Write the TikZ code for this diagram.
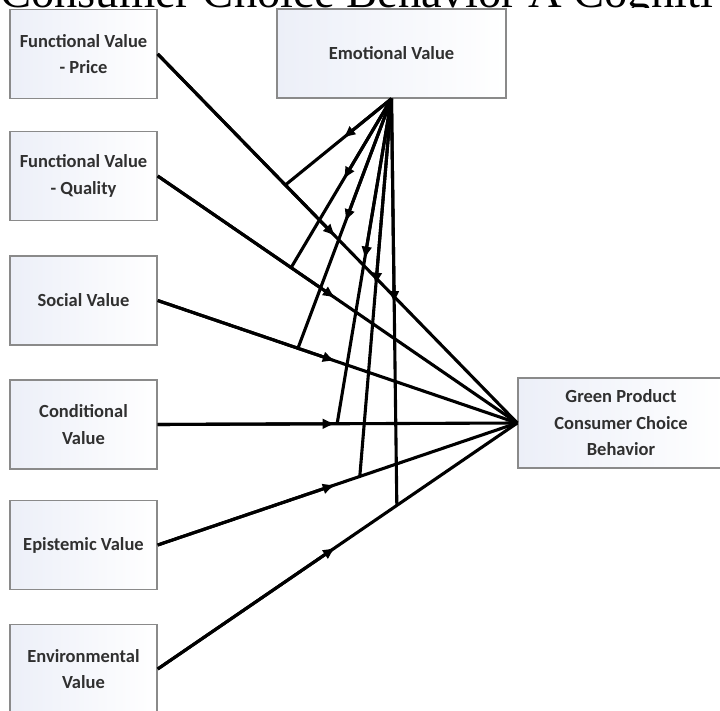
\documentclass[tikz,border=0pt]{standalone}
\usepackage{fontspec}
\setmainfont{Liberation Serif}
\newfontfamily\boxfont{Carlito}
\usetikzlibrary{arrows.meta,calc}
\definecolor{boxl}{HTML}{ECEFF8}
\definecolor{boxline}{HTML}{8A8A8A}
\definecolor{boxtext}{HTML}{303030}
\begin{document}
\begin{tikzpicture}[x=1pt,y=-1pt,
  vbox/.style={draw=boxline, line width=1.4pt, left color=boxl, right color=white,
    minimum width=147pt, minimum height=89pt, inner sep=0pt, align=center,
    text=boxtext, font=\boxfont\bfseries\fontsize{18.5}{26.5}\selectfont},
  conn/.style={line width=3.1pt, draw=black},
  half/.style={line width=3.1pt, draw=black, -{Latex[length=13pt,width=11pt]}}
]
\useasboundingbox (0,0) rectangle (720,711);
\fill[white] (0,0) rectangle (720,711);
\node[anchor=base west, inner sep=0pt, font=\fontsize{46.5}{50}\selectfont] (title) at (0,7.3) {Consumer Choice Behavior A Cognitive};
\fill[white] (-5,7.6) rectangle (725,720);

% boxes
\node[vbox] (fp)  at (83.5,54)    {Functional Value\\- Price};
\node[vbox] (fq)  at (83.5,176)   {Functional Value\\- Quality};
\node[vbox] (sv)  at (83.5,300.5) {Social Value};
\node[vbox] (cv)  at (83.5,424.5) {Conditional\\Value};
\node[vbox] (ep)  at (83.5,545)   {Epistemic Value};
\node[vbox] (env) at (83.5,669)   {Environmental\\Value};
\node[vbox, minimum width=229pt] (emo) at (391.5,53.5) {Emotional Value};
\node[vbox, minimum width=206pt, minimum height=90pt] (gp) at (621,423) {Green Product\\Consumer Choice\\Behavior};

% main paths
\foreach \s in {fp,fq,sv,cv,ep,env}{
  \draw[conn] (\s.east) -- (gp.west);
  \draw[half] (\s.east) -- ($(\s.east)!0.495!(gp.west)$);
}

% moderation points
\coordinate (m1) at ($(fp.east)!0.355!(gp.west)$);
\coordinate (m2) at ($(fq.east)!0.371!(gp.west)$);
\coordinate (m3) at ($(sv.east)!0.390!(gp.west)$);
\coordinate (m4) at ($(cv.east)!0.499!(gp.west)$);
\coordinate (m5) at ($(ep.east)!0.562!(gp.west)$);
\coordinate (m6) at ($(env.east)!0.665!(gp.west)$);

\foreach \m/\t in {m1/0.46,m2/0.48,m3/0.495,m4/0.495,m5/0.495,m6/0.505}{
  \draw[conn] (emo.south) -- (\m);
  \draw[half] (emo.south) -- ($(emo.south)!\t!(\m)$);
}
\end{tikzpicture}
\end{document}
